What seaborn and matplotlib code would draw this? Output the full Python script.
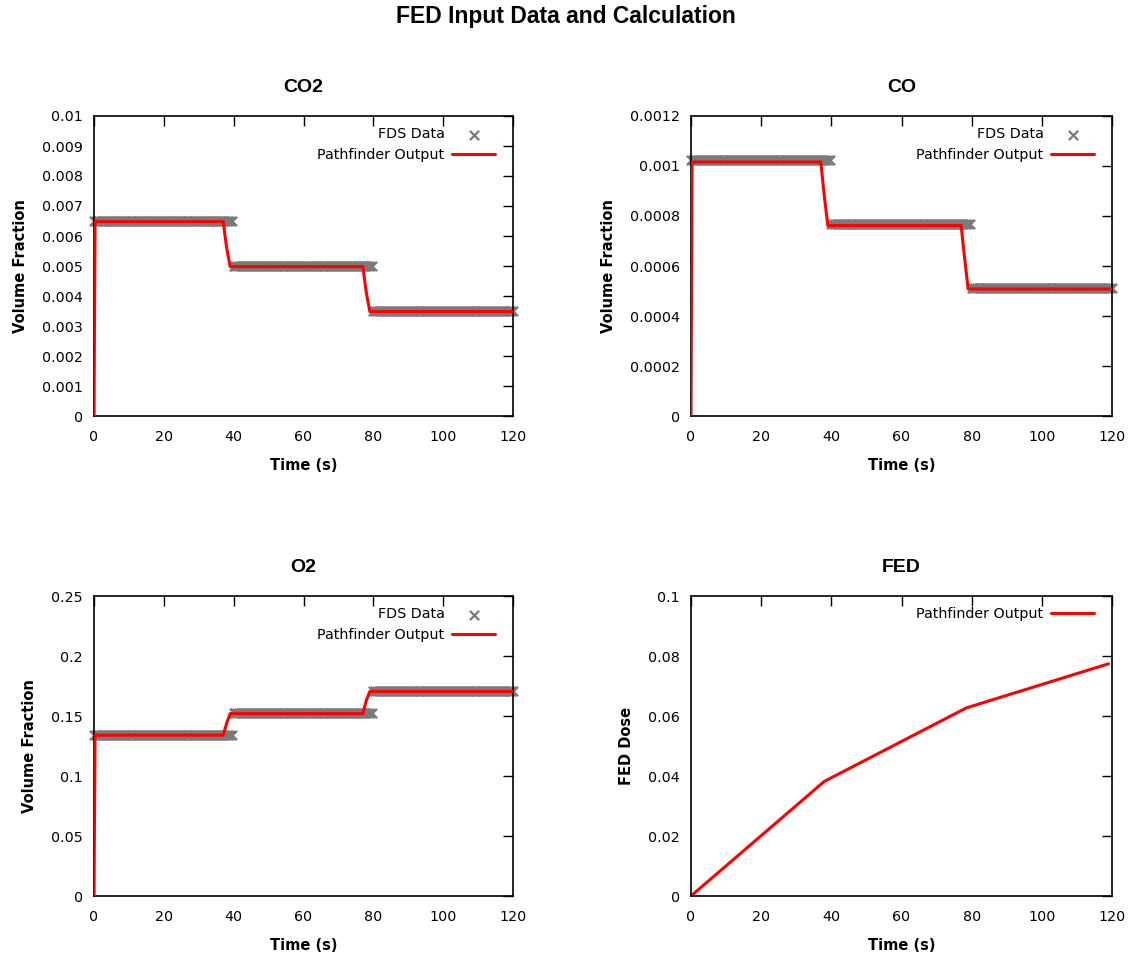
import numpy as np
import pandas as pd
import matplotlib
matplotlib.use("Agg")
import matplotlib.pyplot as plt
from matplotlib import font_manager as fm
import seaborn as sns

# ---------------- data ----------------
# FDS data: step levels between break times (sampled every 0.5 s)
fds_breaks = [0.0, 40.0, 80.0, 120.0]
fds_co2 = [0.0065, 0.0050, 0.0035]
fds_co = [0.001022, 0.000767, 0.000512]
fds_o2 = [0.1345, 0.1525, 0.1710]
fds_dt = 0.5

# Pathfinder output (time / value)
pf_time = [0.0, 0.3, 37.0, 38.0, 39.0, 77.0, 78.0, 79.0, 120.0]
pf_co2 = [0.0, 0.00648, 0.00648, 0.0056, 0.00498, 0.00498, 0.0041, 0.00348, 0.00348]
pf_co = [0.0, 0.001016, 0.001016, 0.00088, 0.000762, 0.000762, 0.00063, 0.000508, 0.000508]
pf_o2 = [0.0, 0.1340, 0.1340, 0.1440, 0.1520, 0.1520, 0.1630, 0.1705, 0.1705]

fed_time = [0.0, 38.0, 78.5, 119.0]
fed_dose = [0.0, 0.0382, 0.0627, 0.0774]

x_ticks = [0, 20, 40, 60, 80, 100, 120]
co2_ticks = [0, 0.001, 0.002, 0.003, 0.004, 0.005, 0.006, 0.007, 0.008, 0.009, 0.01]
co_ticks = [0, 0.0002, 0.0004, 0.0006, 0.0008, 0.001, 0.0012]
o2_ticks = [0, 0.05, 0.1, 0.15, 0.2, 0.25]
fed_ticks = [0, 0.02, 0.04, 0.06, 0.08, 0.1]


def fds_frame(levels):
    rows = []
    for i, lev in enumerate(levels):
        start, end = fds_breaks[i], fds_breaks[i + 1]
        last = i == len(levels) - 1
        t = np.arange(start, end + (fds_dt * 0.5 if last else 0), fds_dt)
        for tt in t:
            rows.append((tt, lev))
    return pd.DataFrame(rows, columns=["t", "v"])


# ---------------- style ----------------
sns.set_style("white")
plt.rcParams["font.family"] = ["DejaVu Sans"]
plt.rcParams["text.color"] = "black"
plt.rcParams["axes.labelcolor"] = "black"
plt.rcParams["xtick.color"] = "black"
plt.rcParams["ytick.color"] = "black"


def arial_bold(size):
    path = None
    for f in fm.fontManager.ttflist:
        if (f.name == "Liberation Sans" and "Narrow" not in f.fname
                and f.style == "normal" and f.weight in (700, "bold")):
            path = f.fname
            break
    if path is None:
        return fm.FontProperties(family="DejaVu Sans", weight="bold", size=size)
    return fm.FontProperties(fname=path, size=size)


W, H = 1132, 957
fig = plt.figure(figsize=(W / 100, H / 100), dpi=100)


def ax_at(l, r, t, b):
    return fig.add_axes([l / W, 1 - b / H, (r - l) / W, (b - t) / H])


tick_fs = 10.3
lab_fs = 10.5
title_fp = arial_bold(14)


def style_ax(ax, yticks, ylim, ylabel, title):
    ax.set_xlim(0, 120)
    ax.set_ylim(*ylim)
    ax.set_xticks(x_ticks)
    ax.set_yticks(yticks)
    ax.set_xticklabels([f"{v:g}" for v in x_ticks])
    ax.set_yticklabels([f"{v:g}" for v in yticks])
    ax.tick_params(direction="in", length=7, width=1, top=True, right=True,
                   labelsize=tick_fs, colors="black", pad=10)
    ax.tick_params(axis="y", pad=8)
    for s in ax.spines.values():
        s.set_visible(True)
        s.set_color("black")
        s.set_linewidth(1.2)
    ax.set_xlabel("Time (s)", fontsize=lab_fs, fontweight="bold", labelpad=10.5,
                  color="black")
    ax.set_ylabel(ylabel, fontsize=lab_fs, fontweight="bold", labelpad=10,
                  color="black")
    ax.set_title(title, fontproperties=title_fp, pad=17, color="black")


def add_legend(ax):
    ax.legend(loc="upper right", frameon=False, markerfirst=False,
              fontsize=tick_fs, handlelength=3.0, handletextpad=0.55,
              borderaxespad=0.8, borderpad=0.0, labelspacing=0.45,
              labelcolor="black", bbox_to_anchor=(0.985, 1.0))


def plot_panel(ax, fds_levels, pf_vals, yticks, ylim, title):
    df = fds_frame(fds_levels)
    sns.scatterplot(data=df, x="t", y="v", ax=ax, marker="x", s=45,
                    color="#7a7a7a", linewidth=1.6, clip_on=False,
                    label="FDS Data", zorder=2)
    pf = pd.DataFrame({"t": pf_time, "v": pf_vals})
    sns.lineplot(data=pf, x="t", y="v", ax=ax, color="#ff0000", linewidth=2.2,
                 label="Pathfinder Output", zorder=3)
    style_ax(ax, yticks, ylim, "Volume Fraction", title)
    add_legend(ax)


ax1 = ax_at(94, 513, 116, 416)
plot_panel(ax1, fds_co2, pf_co2, co2_ticks, (0, 0.01), "CO2")

ax2 = ax_at(691, 1112, 116, 416)
plot_panel(ax2, fds_co, pf_co, co_ticks, (0, 0.0012), "CO")

ax3 = ax_at(94, 513, 596, 896)
plot_panel(ax3, fds_o2, pf_o2, o2_ticks, (0, 0.25), "O2")

ax4 = ax_at(691, 1112, 596, 896)
fed = pd.DataFrame({"t": fed_time, "v": fed_dose})
sns.lineplot(data=fed, x="t", y="v", ax=ax4, color="#ff0000", linewidth=2.2,
             label="Pathfinder Output")
style_ax(ax4, fed_ticks, (0, 0.1), "FED Dose", "FED")
add_legend(ax4)

fig.suptitle("FED Input Data and Calculation", fontproperties=arial_bold(16.5),
             y=1 - 16 / H, va="center", color="black")

fig.savefig("out.png", dpi=100)
